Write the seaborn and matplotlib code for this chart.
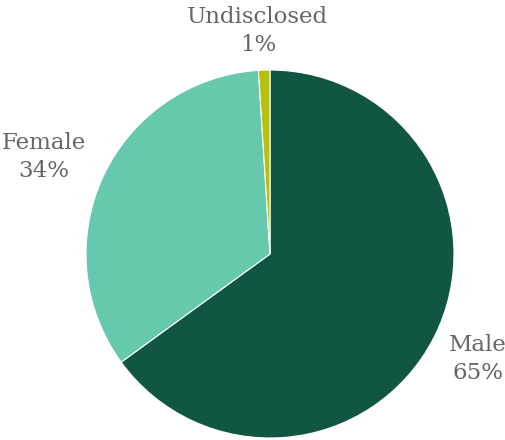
import numpy as np
import seaborn as sns
import matplotlib.pyplot as plt

categories = ["Male", "Female", "Undisclosed"]
shares = [65, 34, 1]
colors = ["#115643", "#66c9ae", "#b8bf0c"]
# where each label sits: distance from centre (in pie radii) and angle nudge (deg)
label_dist = [1.266, 1.335, 1.214]
label_turn = [0.2, 2.0, 1.3]

sns.set_theme(style="white")
plt.rcParams["font.family"] = ["DejaVu Serif"]

fig = plt.figure(figsize=(5.06, 4.40), dpi=100)
# centre of pie at (270, 254) px, radius 184 px
ax = fig.add_axes([(270 - 184) / 506, (440 - 254 - 184) / 440, 368 / 506, 368 / 440])

labels = [f"{c}\n{v}%" for c, v in zip(categories, shares)]
wedges, texts = ax.pie(
    shares,
    labels=labels,
    colors=colors,
    startangle=90,
    counterclock=False,
    wedgeprops={"linewidth": 0.8, "edgecolor": "white"},
    textprops={"fontsize": 16.5, "color": "#666666", "linespacing": 1.35},
)
for w, t, d, turn in zip(wedges, texts, label_dist, label_turn):
    ang = np.deg2rad((w.theta1 + w.theta2) / 2 + turn)
    t.set_position((d * np.cos(ang), d * np.sin(ang)))
    t.set_horizontalalignment("center")
    t.set_verticalalignment("center")
    t.set_clip_on(False)

ax.set_xlim(-1, 1)
ax.set_ylim(-1, 1)
ax.set_aspect("equal")
ax.axis("off")

fig.savefig("out.png", dpi=100)
